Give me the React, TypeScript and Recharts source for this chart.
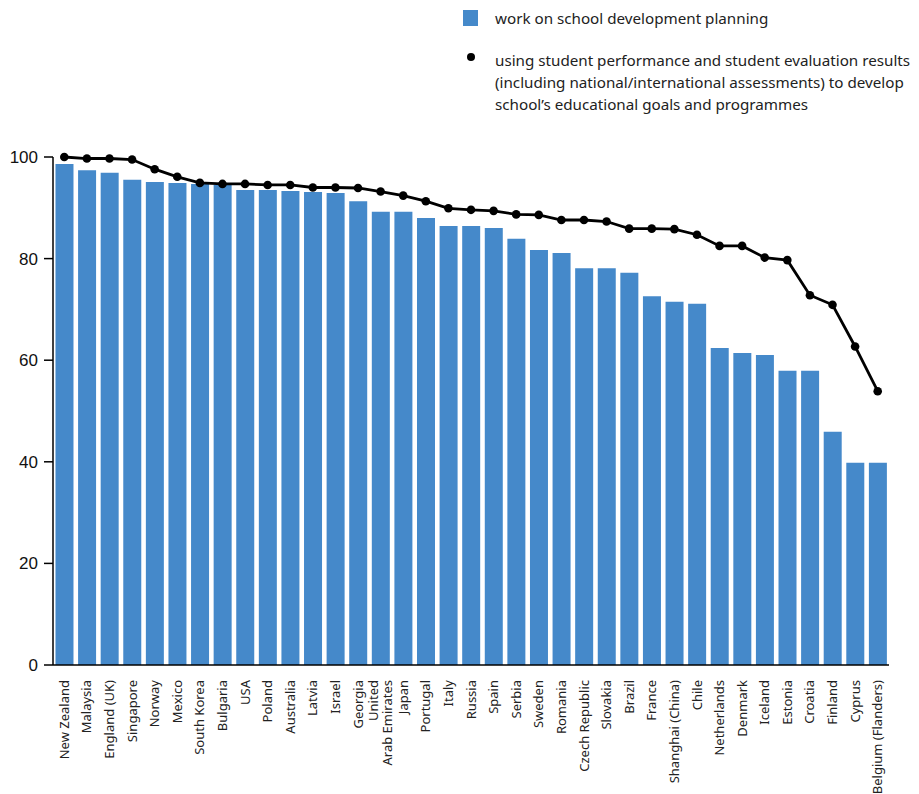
import React from 'react';
import { ComposedChart, Bar, Line, XAxis, YAxis, Legend } from 'recharts';

const countries = [
  'New Zealand', 'Malaysia', 'England (UK)', 'Singapore', 'Norway', 'Mexico', 'South Korea', 'Bulgaria',
  'USA', 'Poland', 'Australia', 'Latvia', 'Israel', 'Georgia', 'United\nArab Emirates', 'Japan', 'Portugal',
  'Italy', 'Russia', 'Spain', 'Serbia', 'Sweden', 'Romania', 'Czech Republic', 'Slovakia', 'Brazil', 'France',
  'Shanghai (China)', 'Chile', 'Netherlands', 'Denmark', 'Iceland', 'Estonia', 'Croatia', 'Finland', 'Cyprus',
  'Belgium (Flanders)',
];

const planning = [
  98.6, 97.4, 96.9, 95.5, 95.1, 94.9, 94.7, 94.5, 93.5, 93.5, 93.3, 93.1, 92.9, 91.3, 89.2, 89.2, 88.0,
  86.4, 86.4, 86.0, 83.9, 81.7, 81.1, 78.1, 78.1, 77.2, 72.6, 71.5, 71.1, 62.4, 61.4, 61.0, 57.9, 57.9,
  45.9, 39.8, 39.8,
];

const usingResults = [
  100, 99.7, 99.7, 99.5, 97.6, 96.1, 94.9, 94.7, 94.7, 94.5, 94.5, 94.0, 94.0, 93.9, 93.2, 92.4, 91.3,
  89.9, 89.6, 89.4, 88.7, 88.6, 87.6, 87.6, 87.3, 85.9, 85.9, 85.8, 84.7, 82.5, 82.5, 80.2, 79.7, 72.8,
  70.9, 62.7, 53.9,
];

const yTicks = [0, 20, 40, 60, 80, 100];

const seriesNames = [
  'work on school development planning',
  'using student performance and student evaluation results\n(including national/international assessments) to develop\nschool\u2019s educational goals and programmes',
];

const data = countries.map((c, i) => ({ country: c, planning: planning[i], results: usingResults[i] }));

const BLUE = '#4589ca';

const XTick = (props: any) => {
  const { x, payload } = props;
  const lines = String(payload.value).split('\n');
  const n = lines.length;
  return (
    <g transform={`translate(${x},680)`}>
      {lines.map((l, i) => (
        <text
          key={i}
          transform={`translate(${(i - (n - 1) / 2) * 14},0) rotate(-90)`}
          textAnchor="end"
          dy="0.35em"
          fontSize={13}
          fontFamily="'Noto Sans', sans-serif"
          fill="#222"
        >
          {l}
        </text>
      ))}
    </g>
  );
};

const LegendContent = () => (
  <div style={{ fontFamily: "'Noto Sans', sans-serif", fontSize: 15.2, color: '#222', lineHeight: '22px' }}>
    <div style={{ display: 'flex', alignItems: 'flex-start' }}>
      <div style={{ width: 15, height: 16, background: BLUE, marginTop: 3, marginRight: 17, flexShrink: 0 }} />
      <div>{seriesNames[0]}</div>
    </div>
    <div style={{ display: 'flex', alignItems: 'flex-start', marginTop: 20 }}>
      <div style={{ width: 15, marginRight: 17, flexShrink: 0, position: 'relative', height: 22 }}>
        <div style={{ position: 'absolute', left: 4, top: 4, width: 8, height: 8, borderRadius: 4, background: '#000' }} />
      </div>
      <div style={{ whiteSpace: 'pre' }}>{seriesNames[1]}</div>
    </div>
  </div>
);

export default function App() {
  return (
    <div style={{ position: 'absolute', left: 0, top: 0, width: 919, height: 794, background: '#fff' }}>
      <ComposedChart
        width={919}
        height={794}
        data={data}
        margin={{ top: 157, right: 30, left: 0, bottom: 0 }}
        barCategoryGap="11%"
      >
        <XAxis
          dataKey="country"
          interval={0}
          height={129}
          tick={<XTick />}
          tickLine={false}
          axisLine={{ stroke: '#000', strokeWidth: 1.5 }}
        />
        <YAxis
          domain={[0, 100]}
          ticks={yTicks}
          width={53}
          tickSize={9}
          tickMargin={6}
          axisLine={{ stroke: '#000', strokeWidth: 1.5 }}
          tickLine={{ stroke: '#000', strokeWidth: 1.5 }}
          tick={{ fontSize: 17, fill: '#111', fontFamily: "'Liberation Sans', Arial, sans-serif" }}
        />
        <Legend
          layout="horizontal"
          verticalAlign="middle"
          content={<LegendContent />}
          wrapperStyle={{ position: 'absolute', top: 7, left: 463, width: 456 }}
        />
        <Bar dataKey="planning" fill={BLUE} isAnimationActive={false} />
        <Line
          dataKey="results"
          stroke="#000"
          strokeWidth={2.8}
          dot={{ r: 4.3, fill: '#000', stroke: '#000', strokeWidth: 0 }}
          activeDot={false}
          isAnimationActive={false}
        />
      </ComposedChart>
    </div>
  );
}
